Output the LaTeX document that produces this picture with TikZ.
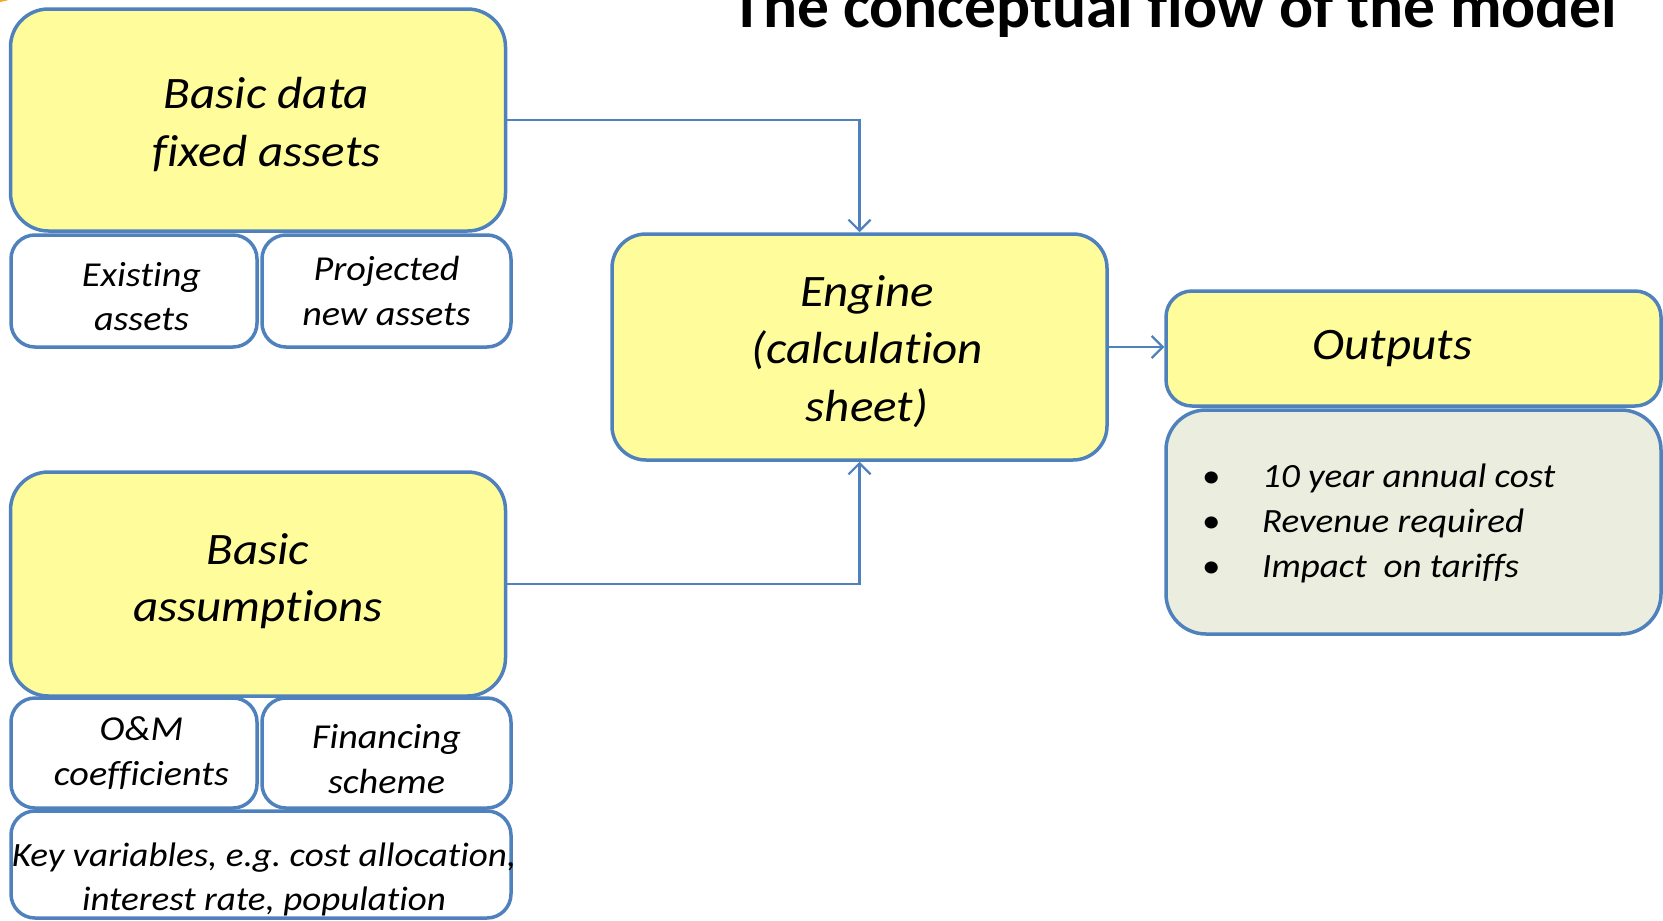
\documentclass[tikz,border=0pt]{standalone}
\usepackage{fontspec}
\setmainfont{Carlito}[Ligatures=NoCommon,FakeStretch=1.09]
\newfontfamily\titlefont{Carlito}[Ligatures=NoCommon]
\usetikzlibrary{arrows.meta}
\definecolor{bordblue}{RGB}{79,129,189}
\definecolor{boxyellow}{RGB}{255,252,155}
\definecolor{listgrey}{RGB}{235,238,222}
\definecolor{dotorange}{RGB}{247,168,35}
\frenchspacing
\begin{document}
\begin{tikzpicture}[x=1pt,y=-1pt,
  bigbox/.style={draw=bordblue,line width=3.5pt,fill=boxyellow,rounded corners=38pt,inner sep=0pt},
  subbox/.style={draw=bordblue,line width=3.5pt,fill=white,rounded corners=24pt,inner sep=0pt},
  bigtxt/.style={align=center,inner sep=0pt,font=\fontsize{45}{57.5}\selectfont\itshape},
  smalltxt/.style={align=center,inner sep=0pt,font=\fontsize{35}{44.5}\selectfont\itshape},
  conn/.style={draw=bordblue,line width=2.2pt,-{Straight Barb[length=11pt,width=22pt]}}]
\useasboundingbox (0,0) rectangle (1663,921);
\begin{scope}
\clip (0,0) rectangle (1663,921);
\fill[dotorange] (-20,-100) circle[radius=104pt];

\node[anchor=base east,font=\fontsize{63.5}{70}\selectfont\titlefont\bfseries] (title) at (1621,27) {The conceptual flow of the model};

\node[bigbox,minimum width=495pt,minimum height=222pt] (basic) at (258,120) {};
\node[subbox,minimum width=246pt,minimum height=112pt] (exist) at (134,291) {};
\node[subbox,minimum width=249pt,minimum height=112pt] (proj) at (386.5,291) {};
\node[bigbox,rounded corners=34pt,minimum width=495pt,minimum height=226pt] (engine) at (859.5,347) {};
\node[bigbox,rounded corners=26pt,minimum width=495pt,minimum height=115pt] (outputs) at (1413.5,348.5) {};
\node[bigbox,fill=listgrey,rounded corners=40pt,minimum width=495pt,minimum height=224pt] (list) at (1413.5,522) {};
\node[bigbox,minimum width=495pt,minimum height=224pt] (assump) at (258,584) {};
\node[subbox,minimum width=246pt,minimum height=110pt] (om) at (134,753) {};
\node[subbox,minimum width=249pt,minimum height=110pt] (fin) at (386.5,753) {};
\node[subbox,minimum width=500pt,minimum height=107pt] (key) at (261,864.5) {};

\node[bigtxt] (basic-t) at ([shift={(8.5,4.5)}]basic.center) {Basic data\\fixed assets};
\node[smalltxt] (exist-t) at ([shift={(7.5,5.5)}]exist.center) {Existing\\assets};
\node[smalltxt] (proj-t) at (proj.center) {Projected\\new assets};
\node[bigtxt] (engine-t) at ([shift={(7.5,4.5)}]engine.center) {Engine\\(calculation\\sheet)};
\node[bigtxt] (outputs-t) at ([shift={(-21,0)}]outputs.center) {Outputs};
\node[anchor=west,inner sep=0pt,align=left,font=\fontsize{34}{45}\selectfont\itshape] (list-t) at (1202,523)
  {\makebox[60pt][l]{\upshape •}10 year annual cost\\
   \makebox[60pt][l]{\upshape •}Revenue required\\
   \makebox[60pt][l]{\upshape •}Impact\ \ on tariffs};
\node[bigtxt] (assump-t) at ([shift={(0,-3)}]assump.center) {Basic\\assumptions};
\node[smalltxt] (om-t) at ([shift={(7.5,0)}]om.center) {O\&M\\coefficients};
\node[smalltxt] (fin-t) at ([shift={(0,6)}]fin.center) {Financing\\scheme};
\node[smalltxt,font=\fontsize{34}{44.5}\selectfont\itshape] (key-t) at ([shift={(3,15)}]key.center) {Key variables, e.g. cost allocation,\\interest rate, population};

\draw[conn] (basic.east) -| (engine.north);
\draw[conn] (assump.east) -| (engine.south);
\draw[conn] (engine.east) -- (engine.east -| outputs.west);
\end{scope}
\end{tikzpicture}
\end{document}
